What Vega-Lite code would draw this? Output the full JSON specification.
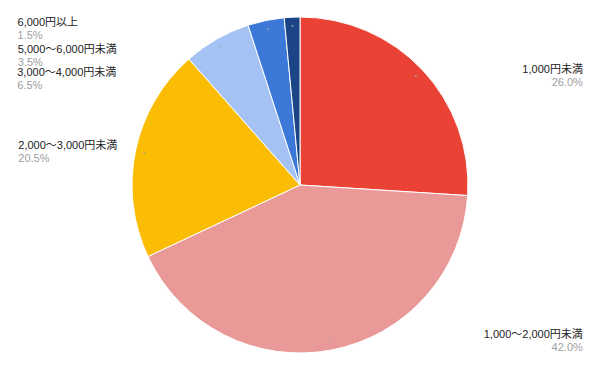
{
  "$schema": "https://vega.github.io/schema/vega-lite/v6.json",
  "width": 600,
  "height": 370,
  "autosize": {"type": "none"},
  "padding": 0,
  "background": "white",
  "view": {"stroke": null},
  "config": {"text": {"font": "Liberation Sans, Arial, Noto Sans CJK JP", "fontSize": 11}},
  "data": {"values": [
    {"cat": "1,000円未満", "pct": 26.0, "label": "26.0%", "o": 1},
    {"cat": "1,000～2,000円未満", "pct": 42.0, "label": "42.0%", "o": 2},
    {"cat": "2,000～3,000円未満", "pct": 20.5, "label": "20.5%", "o": 3},
    {"cat": "3,000～4,000円未満", "pct": 6.5, "label": "6.5%", "o": 4},
    {"cat": "5,000～6,000円未満", "pct": 3.5, "label": "3.5%", "o": 5},
    {"cat": "6,000円以上", "pct": 1.5, "label": "1.5%", "o": 6}
  ]},
  "encoding": {
    "theta": {"field": "pct", "type": "quantitative", "stack": true},
    "order": {"field": "o", "type": "quantitative", "sort": "ascending"}
  },
  "layer": [
    {
      "mark": {"type": "arc", "outerRadius": 168, "stroke": "white", "strokeWidth": 1},
      "encoding": {
        "color": {"field": "cat", "type": "nominal", "legend": null,
          "scale": {
            "domain": ["1,000円未満", "1,000～2,000円未満", "2,000～3,000円未満", "3,000～4,000円未満", "5,000～6,000円未満", "6,000円以上"],
            "range": ["#EA4335", "#EA9999", "#FBBC04", "#A4C2F4", "#3C78D8", "#1C4587"]
          }
        }
      }
    },
    {
      "mark": {"type": "text", "radius": 159, "text": "●", "fontSize": 4, "color": "#aaaaaa", "align": "center", "baseline": "middle"}
    },
    {
      "mark": {"type": "text", "radius": 159, "align": "right", "baseline": "alphabetic", "dx": 167, "dy": -3.5, "color": "#222222"},
      "encoding": {"text": {"condition": {"test": "datum.o === 1", "field": "cat"}, "value": ""}}
    },
    {
      "mark": {"type": "text", "radius": 159, "align": "right", "baseline": "top", "dx": 167, "dy": 0.5, "color": "#9e9e9e"},
      "encoding": {"text": {"condition": {"test": "datum.o === 1", "field": "label"}, "value": ""}}
    },
    {
      "mark": {"type": "text", "radius": 159, "align": "right", "baseline": "alphabetic", "dx": 253, "dy": -3.5, "color": "#222222"},
      "encoding": {"text": {"condition": {"test": "datum.o === 2", "field": "cat"}, "value": ""}}
    },
    {
      "mark": {"type": "text", "radius": 159, "align": "right", "baseline": "top", "dx": 253, "dy": 0.5, "color": "#9e9e9e"},
      "encoding": {"text": {"condition": {"test": "datum.o === 2", "field": "label"}, "value": ""}}
    },
    {
      "mark": {"type": "text", "radius": 159, "align": "left", "baseline": "alphabetic", "dx": -126, "dy": -3.5, "color": "#222222"},
      "encoding": {"text": {"condition": {"test": "datum.o === 3", "field": "cat"}, "value": ""}}
    },
    {
      "mark": {"type": "text", "radius": 159, "align": "left", "baseline": "top", "dx": -126, "dy": 0.5, "color": "#9e9e9e"},
      "encoding": {"text": {"condition": {"test": "datum.o === 3", "field": "label"}, "value": ""}}
    },
    {
      "mark": {"type": "text", "radius": 159, "align": "left", "baseline": "alphabetic", "dx": -204, "dy": 29.5, "color": "#222222"},
      "encoding": {"text": {"condition": {"test": "datum.o === 4", "field": "cat"}, "value": ""}}
    },
    {
      "mark": {"type": "text", "radius": 159, "align": "left", "baseline": "top", "dx": -204, "dy": 33.5, "color": "#9e9e9e"},
      "encoding": {"text": {"condition": {"test": "datum.o === 4", "field": "label"}, "value": ""}}
    },
    {
      "mark": {"type": "text", "radius": 159, "align": "left", "baseline": "alphabetic", "dx": -250, "dy": 23.5, "color": "#222222"},
      "encoding": {"text": {"condition": {"test": "datum.o === 5", "field": "cat"}, "value": ""}}
    },
    {
      "mark": {"type": "text", "radius": 159, "align": "left", "baseline": "top", "dx": -250, "dy": 27.5, "color": "#9e9e9e"},
      "encoding": {"text": {"condition": {"test": "datum.o === 5", "field": "label"}, "value": ""}}
    },
    {
      "mark": {"type": "text", "radius": 159, "align": "left", "baseline": "alphabetic", "dx": -275, "dy": 0, "color": "#222222"},
      "encoding": {"text": {"condition": {"test": "datum.o === 6", "field": "cat"}, "value": ""}}
    },
    {
      "mark": {"type": "text", "radius": 159, "align": "left", "baseline": "top", "dx": -275, "dy": 4, "color": "#9e9e9e"},
      "encoding": {"text": {"condition": {"test": "datum.o === 6", "field": "label"}, "value": ""}}
    }
  ]
}
